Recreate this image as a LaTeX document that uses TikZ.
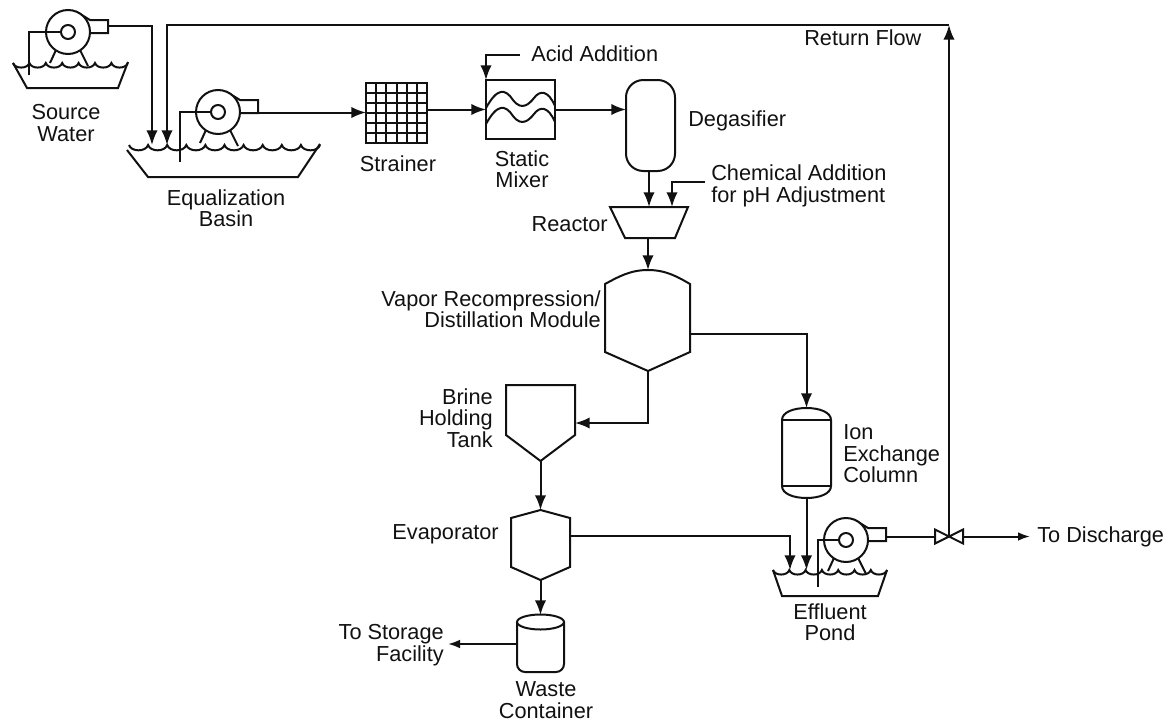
\documentclass[tikz,border=0pt]{standalone}
\usepackage{fontspec}
\setmainfont{Liberation Sans}
\usetikzlibrary{arrows.meta,positioning,calc}
\definecolor{Ink}{HTML}{111111}
\tikzset{
  pipe/.style={Ink,line width=1.5pt},
  flow/.style={pipe,-{Latex[length=11pt,width=8.5pt]}},
  flowS/.style={pipe,-{Latex[length=9pt,width=6.5pt]}},
  vessel/.style={Ink,line width=1.5pt,fill=white},
  ghost/.style={inner sep=0pt,outer sep=0pt},
  lbl/.style={font=\fontsize{16.3}{16.1}\selectfont,text=Ink,inner sep=0pt,align=center},
  lblL/.style={lbl,anchor=west,align=left},
  lblR/.style={lbl,anchor=east,align=right},
  pumpunit/.pic={
    \draw[vessel] (8,-20.5) -- (22,-12) -- (40,-12) -- (40,1) -- (21,1);
    \draw[vessel] (0,0) circle (22);
    \draw[vessel] (0,0) circle (7);
    \draw[pipe] (-12,18) -- (-18,31);
    \draw[pipe] (12,18) -- (20,34);
    \coordinate (-out) at (40,-6);
    \coordinate (-hub) at (-7,0);
  }
}
\begin{document}
\begin{tikzpicture}[x=0.75pt,y=-0.75pt]
\useasboundingbox (0,0) rectangle (1170,721);
% pumps and basins
\pic (srcpump) at (68,32) {pumpunit};
\pic (eqpump) at (218,112) {pumpunit};
\pic (effpump) at (846,540) {pumpunit};
\draw[pipe] (13,63) -- (27,88) -- (118,88) -- (128,62);
\draw[pipe] (127,150) -- (148,177) -- (298,177) -- (320,144);
\draw[pipe] (773,570) -- (782,596) -- (878,596) -- (887,570);
\draw[pipe] (13,63) foreach \k in {1,...,7} {to[out=-72,in=-108] ++(16.4,0)};
\draw[pipe] (129,145) foreach \k in {1,...,10} {to[out=-72,in=-108] ++(19.1,0)};
\draw[pipe] (773,570) foreach \k in {1,...,7} {to[out=-72,in=-108] ++(16.3,0)};
% vessels
\node[vessel,draw,minimum width=61*0.75pt,minimum height=60*0.75pt,ghost] (strainer) at (396.5,112.5) {};
\foreach \x in {1,...,5} {\draw[pipe] ($(strainer.north west)!\x/6!(strainer.north east)$) -- ($(strainer.south west)!\x/6!(strainer.south east)$);}
\foreach \y in {1,...,5} {\draw[pipe] ($(strainer.north west)!\y/6!(strainer.south west)$) -- ($(strainer.north east)!\y/6!(strainer.south east)$);}
\node[vessel,draw,minimum width=69*0.75pt,minimum height=59*0.75pt,ghost] (mixer) at (520.5,109.5) {};
\foreach \y in {0,16} {\draw[pipe] (486,108+\y) .. controls (497,88+\y) and (505,88+\y) .. (513,100+\y) .. controls (522,112+\y) and (530,103+\y) .. (534,98+\y) .. controls (540,90+\y) and (548,90+\y) .. (555,106+\y);}
\node[ghost,minimum width=49*0.75pt,minimum height=91*0.75pt] (degas) at (650.5,125.5) {};
\draw[vessel,rounded corners=13pt] (degas.north west) rectangle (degas.south east);
\node[ghost,minimum width=78*0.75pt,minimum height=31*0.75pt] (reactor) at (649,222.5) {};
\draw[vessel] (reactor.north west) -- (reactor.north east) -- (675,238) -- (625,238) -- cycle;
\node[ghost,minimum width=85*0.75pt,minimum height=101*0.75pt] (module) at (648,320.5) {};
\draw[vessel] (module.north) .. controls (630,270) and (618,277) .. (605,284) -- (605,352) -- (module.south) -- (690,352) -- (690,284) .. controls (678,277) and (666,270) .. (module.north);
\node[ghost,minimum width=69*0.75pt,minimum height=76*0.75pt] (brine) at (540.5,423) {};
\draw[vessel] (brine.north west) -- (brine.north east) -- (575,435) -- (brine.south) -- (506,435) -- cycle;
\node[ghost,minimum width=59*0.75pt,minimum height=70*0.75pt] (evap) at (540.5,545) {};
\draw[vessel] (evap.north) -- (570,518) -- (570,567) -- (evap.south) -- (511,567) -- (511,518) -- cycle;
\node[ghost,minimum width=47*0.75pt,minimum height=58*0.75pt] (waste) at (540.5,644) {};
\draw[vessel,rounded corners=6pt] (517,622) -- (517,672) -- (564,672) -- (564,622);
\draw[vessel] (540.5,622) ellipse (23.5 and 7.5);
\node[ghost,minimum width=49*0.75pt,minimum height=90*0.75pt] (column) at (806.5,453) {};
\draw[vessel] (782,420) .. controls (782,412) and (794,408) .. (column.north) .. controls (819,408) and (831,412) .. (831,420) -- (831,486) .. controls (831,494) and (819,498) .. (column.south) .. controls (794,498) and (782,494) .. (782,486) -- cycle;
\draw[pipe] (782,420) -- (831,420);
\draw[pipe] (782,486) -- (831,486);
\node[ghost,minimum width=28*0.75pt,minimum height=14*0.75pt] (valve) at (949,536.5) {};
\draw[vessel] (valve.center) -- (valve.north west) -- (valve.south west) -- cycle;
\draw[vessel] (valve.center) -- (valve.north east) -- (valve.south east) -- cycle;
% free ends
\coordinate (srcfoot) at (29,75);
\coordinate (eqfoot) at (180,162);
\coordinate (efffoot) at (818,587);
\coordinate (eqinA) at (152,145);
\coordinate (eqinB) at (167,145);
\coordinate (acidend) at (520,55);
\coordinate (chemend) at (705,182);
\coordinate (mixertop) at (486,80);
\coordinate (reactorin) at (672,207);
\coordinate (modout) at (690,334);
\coordinate (evapout) at (570,536);
\coordinate (pondinA) at (790,570);
\coordinate (pondinB) at (806.5,570);
\coordinate (storeend) at (448,644);
\coordinate (dischargeend) at (1030,536.5);
\coordinate (turn) at (949,25);
\coordinate (turnstem) at (949,60);
% connectors
\draw[pipe] (srcpump-hub) -| (srcfoot);
\draw[pipe] (eqpump-hub) -| (eqfoot);
\draw[pipe] (effpump-hub) -| (efffoot);
\draw[flow] (srcpump-out) -| (eqinA);
\draw[pipe] (valve.center) -- (turnstem);
\draw[flow] (turnstem) -- (turn);
\draw[flow] (turn) -| (eqinB);
\draw[flow] (eqpump-out |- strainer.west) -- (strainer.west);
\draw[flow] (strainer.east |- mixer.west) -- (mixer.west);
\draw[flow] (mixer.east) -- (mixer.east -| degas.west);
\draw[flow] (acidend) -| (mixertop);
\draw[flow] (degas.south -| reactor.north) -- (reactor.north);
\draw[flow] (chemend) -| (reactorin);
\draw[flow] (reactor.south -| module.north) -- (module.north);
\draw[flow] (module.south) |- (brine.east);
\draw[flow] (modout) -| (column.north);
\draw[flow] (brine.south) -- (evap.north);
\draw[flow] (evapout) -| (pondinA);
\draw[flow] (evap.south) -- (waste.north);
\draw[flowS] (waste.west) -- (storeend);
\draw[flow] (column.south) -- (pondinB);
\draw[pipe] (effpump-out |- valve.west) -- (valve.west);
\draw[flowS] (valve.east) -- (dischargeend);
% labels
\node[lbl] (lblsource) at (66,123) {Source\\Water};
\node[lbl] (lbleq) at (226,208) {Equalization\\Basin};
\node[lbl] (lblstrainer) at (398,164) {Strainer};
\node[lbl] (lblmixer) at (522,169) {Static\\Mixer};
\node[lblL] (lblacid) at (531,54) {Acid Addition};
\node[lblL] (lbldegas) at (688,121) {Degasifier};
\node[lblL] (lblchem) at (711,186) {Chemical Addition\\for pH Adjustment};
\node[lblR] (lblreactor) at (608,224) {Reactor};
\node[lblR] (lblmodule) at (601,309) {Vapor Recompression/\\Distillation Module};
\node[lblR] (lblbrine) at (493,418) {Brine\\Holding\\Tank};
\node[lblR] (lblevap) at (499,534) {Evaporator};
\node[lblR] (lblstore) at (444,645) {To Storage\\Facility};
\node[lbl] (lblwaste) at (546,700) {Waste\\Container};
\node[lblL] (lblcolumn) at (843,454) {Ion\\Exchange\\Column};
\node[lbl] (lblpond) at (830,622) {Effluent\\Pond};
\node[lblL] (lblreturn) at (804,38) {Return Flow};
\node[lblL] (lbldischarge) at (1037,537) {To Discharge};
\end{tikzpicture}
\end{document}
